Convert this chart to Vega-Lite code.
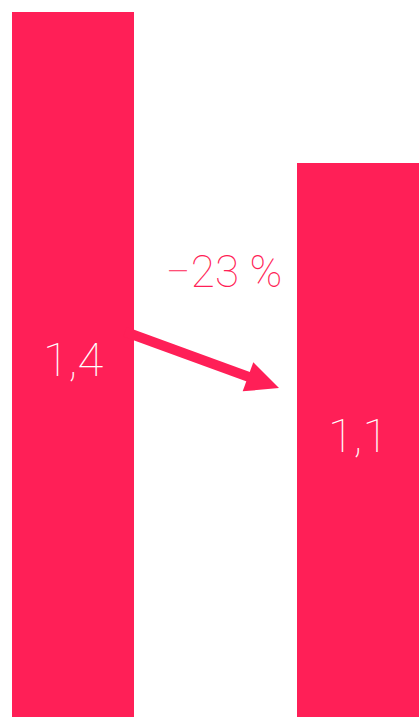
{
  "$schema": "https://vega.github.io/schema/vega-lite/v6.json",
  "width": 419,
  "height": 717,
  "autosize": {"type": "fit", "contains": "padding"},
  "padding": 0,
  "background": "#ffffff",
  "config": {"view": {"stroke": null}},
  "datasets": {
    "bars": [
      {"period": "A", "x0": 0.12, "x1": 1.34, "value": 1.4, "label": "1,4"},
      {"period": "B", "x0": 2.97, "x1": 4.19, "value": 1.1, "label": "1,1"}
    ],
    "arrow": [
      {"order": 1, "ax": 1.25, "ay": 0.7651},
      {"order": 2, "ax": 2.56, "ay": 0.6702}
    ],
    "head": [
      {"ax": 2.635, "ay": 0.6644}
    ],
    "change": [
      {"ax": 2.24, "ay": 0.8805, "text": "−23 %"}
    ]
  },
  "resolve": {"scale": {"y": "independent"}},
  "layer": [
    {
      "data": {"name": "bars"},
      "mark": {"type": "bar", "color": "#ff1f57"},
      "encoding": {
        "x": {"field": "x0", "type": "quantitative", "scale": {"domain": [0, 4.19], "nice": false, "zero": false}, "axis": null},
        "x2": {"field": "x1"},
        "y": {"field": "value", "type": "quantitative", "scale": {"domain": [0, 1.4238], "nice": false}, "axis": null},
        "y2": {"datum": 0}
      }
    },
    {
      "data": {"name": "bars"},
      "mark": {"type": "text", "color": "#ffffff", "font": "Roboto", "fontWeight": 100, "fontSize": 47, "align": "center", "baseline": "middle", "dx": 61, "dy": -2},
      "encoding": {
        "x": {"field": "x0", "type": "quantitative"},
        "y": {"field": "value", "type": "quantitative", "scale": {"domain": [0, 2.8476], "nice": false}, "axis": null},
        "text": {"field": "label"}
      }
    },
    {
      "data": {"name": "arrow"},
      "mark": {"type": "line", "color": "#ff1f57", "strokeWidth": 10, "strokeCap": "butt"},
      "encoding": {
        "x": {"field": "ax", "type": "quantitative"},
        "y": {"field": "ay", "type": "quantitative", "scale": {"domain": [0, 1.4238], "nice": false}, "axis": null},
        "order": {"field": "order"}
      }
    },
    {
      "data": {"name": "head"},
      "mark": {"type": "point", "shape": "M1,0L-1,-0.94L-1,0.94Z", "size": 1089, "angle": 20, "filled": true, "opacity": 1, "color": "#ff1f57", "strokeWidth": 0},
      "encoding": {
        "x": {"field": "ax", "type": "quantitative"},
        "y": {"field": "ay", "type": "quantitative", "scale": {"domain": [0, 1.4238], "nice": false}, "axis": null}
      }
    },
    {
      "data": {"name": "change"},
      "mark": {"type": "text", "color": "#ff1f57", "font": "Roboto", "fontWeight": 100, "fontSize": 44, "align": "center", "baseline": "middle"},
      "encoding": {
        "x": {"field": "ax", "type": "quantitative"},
        "y": {"field": "ay", "type": "quantitative", "scale": {"domain": [0, 1.4238], "nice": false}, "axis": null},
        "text": {"field": "text"}
      }
    }
  ]
}
